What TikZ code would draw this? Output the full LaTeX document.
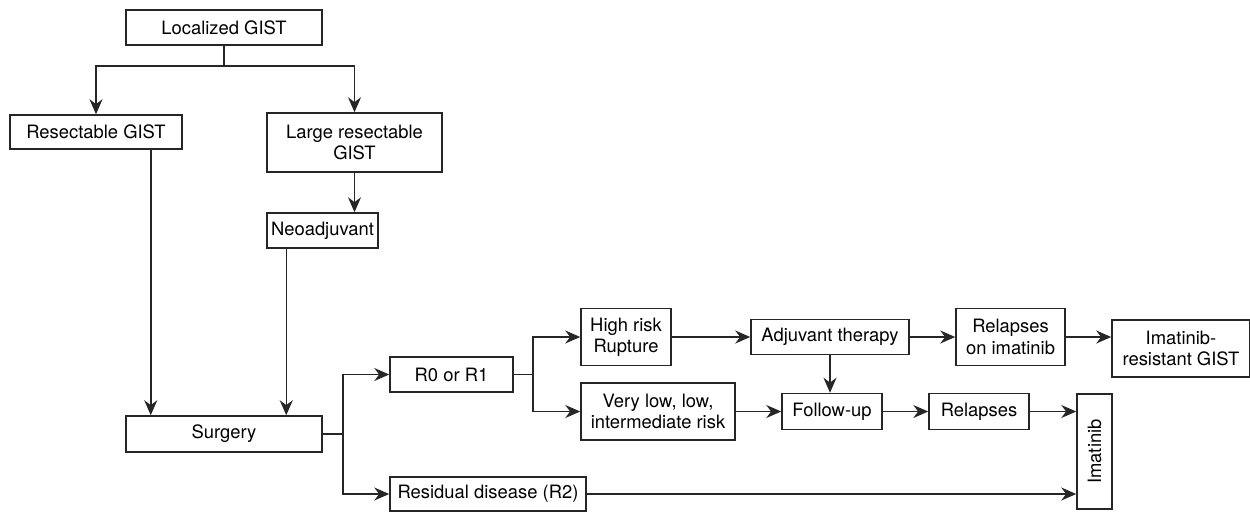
\documentclass[tikz,border=0pt]{standalone}
\usepackage{fontspec}
\setmainfont{TeX Gyre Heros}
\usepackage{tikz}
\usetikzlibrary{arrows.meta}

\begin{document}
\begin{tikzpicture}[x=0.5pt, y=-0.5pt,
    box/.style={draw=black!85, line width=0.75pt, inner sep=1pt, align=center,
      font=\fontsize{9.2}{10.6}\selectfont},
    arr/.style={draw=black!85, line width=0.75pt, -{Stealth[length=7.5pt, width=6.5pt]}},
    con/.style={draw=black!85, line width=0.75pt}]
    \def\rowA{337}
    \def\rowB{411.5}

    \useasboundingbox (0,0) rectangle (1250,511);

    % Left column: diagnosis and surgery
    \node[box, minimum width=98pt, minimum height=17.5pt] (loc) at (224,27.5) {Localized GIST};
    \node[box, minimum width=86pt, minimum height=17pt] (res) at (96,132) {Resectable GIST};
    \node[box, minimum width=87.5pt, minimum height=29.5pt] (large) at (354.5,142.5) {Large resectable\\GIST};
    \node[box, minimum width=55.5pt, minimum height=17.5pt] (neo) at (322.5,230.5) {Neoadjuvant};
    \node[box, minimum width=98pt, minimum height=18pt] (surg) at (224,434) {Surgery};

    % Resection outcome
    \node[box, minimum width=61.5pt, minimum height=17.5pt] (r0) at (451.5,374.5) {R0 or R1};
    \node[box, minimum width=98pt, minimum height=17pt] (r2) at (488,494) {Residual disease (R2)};

    % Risk groups and follow-up
    \node[box, minimum width=45pt, minimum height=28.5pt] (high) at (626,\rowA) {High risk\\Rupture};
    \node[box, minimum width=77pt, minimum height=28.5pt] (vlow) at (658,\rowB) {Very low, low,\\intermediate risk};
    \node[box, minimum width=79pt, minimum height=17.5pt] (adj) at (830,\rowA) {Adjuvant therapy};
    \node[box, minimum width=50pt, minimum height=18pt] (fol) at (832,\rowB) {Follow-up};
    \node[box, minimum width=54.5pt, minimum height=28.5pt] (relim) at (1010.5,\rowA) {Relapses\\on imatinib};
    \node[box, minimum width=69pt, minimum height=28.5pt] (resist) at (1181,348.5) {Imatinib-\\resistant GIST};
    \node[box, minimum width=50pt, minimum height=18pt] (rel) at (979,\rowB) {Relapses};
    \node[box, rotate=90, minimum width=57.5pt, minimum height=17.5pt] (ima) at (1094.5,451.5) {Imatinib};

    % Split points
    \coordinate (split1) at (224,66);
    \coordinate (split2) at (343,434);
    \coordinate (split3) at (533,374.5);
    \coordinate (resout) at ([xshift=-16pt]res.south east);
    \coordinate (neoout) at ([xshift=10pt]neo.south west);

    % Connectors
    \draw[con] (loc.south) -- (split1);
    \draw[arr] (split1) -| (res.north);
    \draw[arr] (split1) -| (large.north);
    \draw[arr] (large.south) -- (large.south |- neo.north);
    \draw[arr] (resout) -- (resout |- surg.north);
    \draw[arr] (neoout) -- (neoout |- surg.north);

    \draw[con] (surg.east) -- (split2);
    \draw[arr] (split2) |- (r0.west);
    \draw[arr] (split2) |- (r2.west);
    \draw[con] (r0.east) -- (split3);
    \draw[arr] (split3) |- (high.west);
    \draw[arr] (split3) |- (vlow.west);

    \draw[arr] (high.east) -- (adj.west);
    \draw[arr] (vlow.east) -- (fol.west);
    \draw[arr] (adj.south) -- (adj.south |- fol.north);
    \draw[arr] (adj.east) -- (relim.west);
    \draw[arr] (relim.east) -- (relim.east -| resist.west);
    \draw[arr] (fol.east) -- (rel.west);
    \draw[arr] (rel.east) -- (rel.east -| ima.north);
    \draw[arr] (r2.east) -- (r2.east -| ima.north);
\end{tikzpicture}
\end{document}
